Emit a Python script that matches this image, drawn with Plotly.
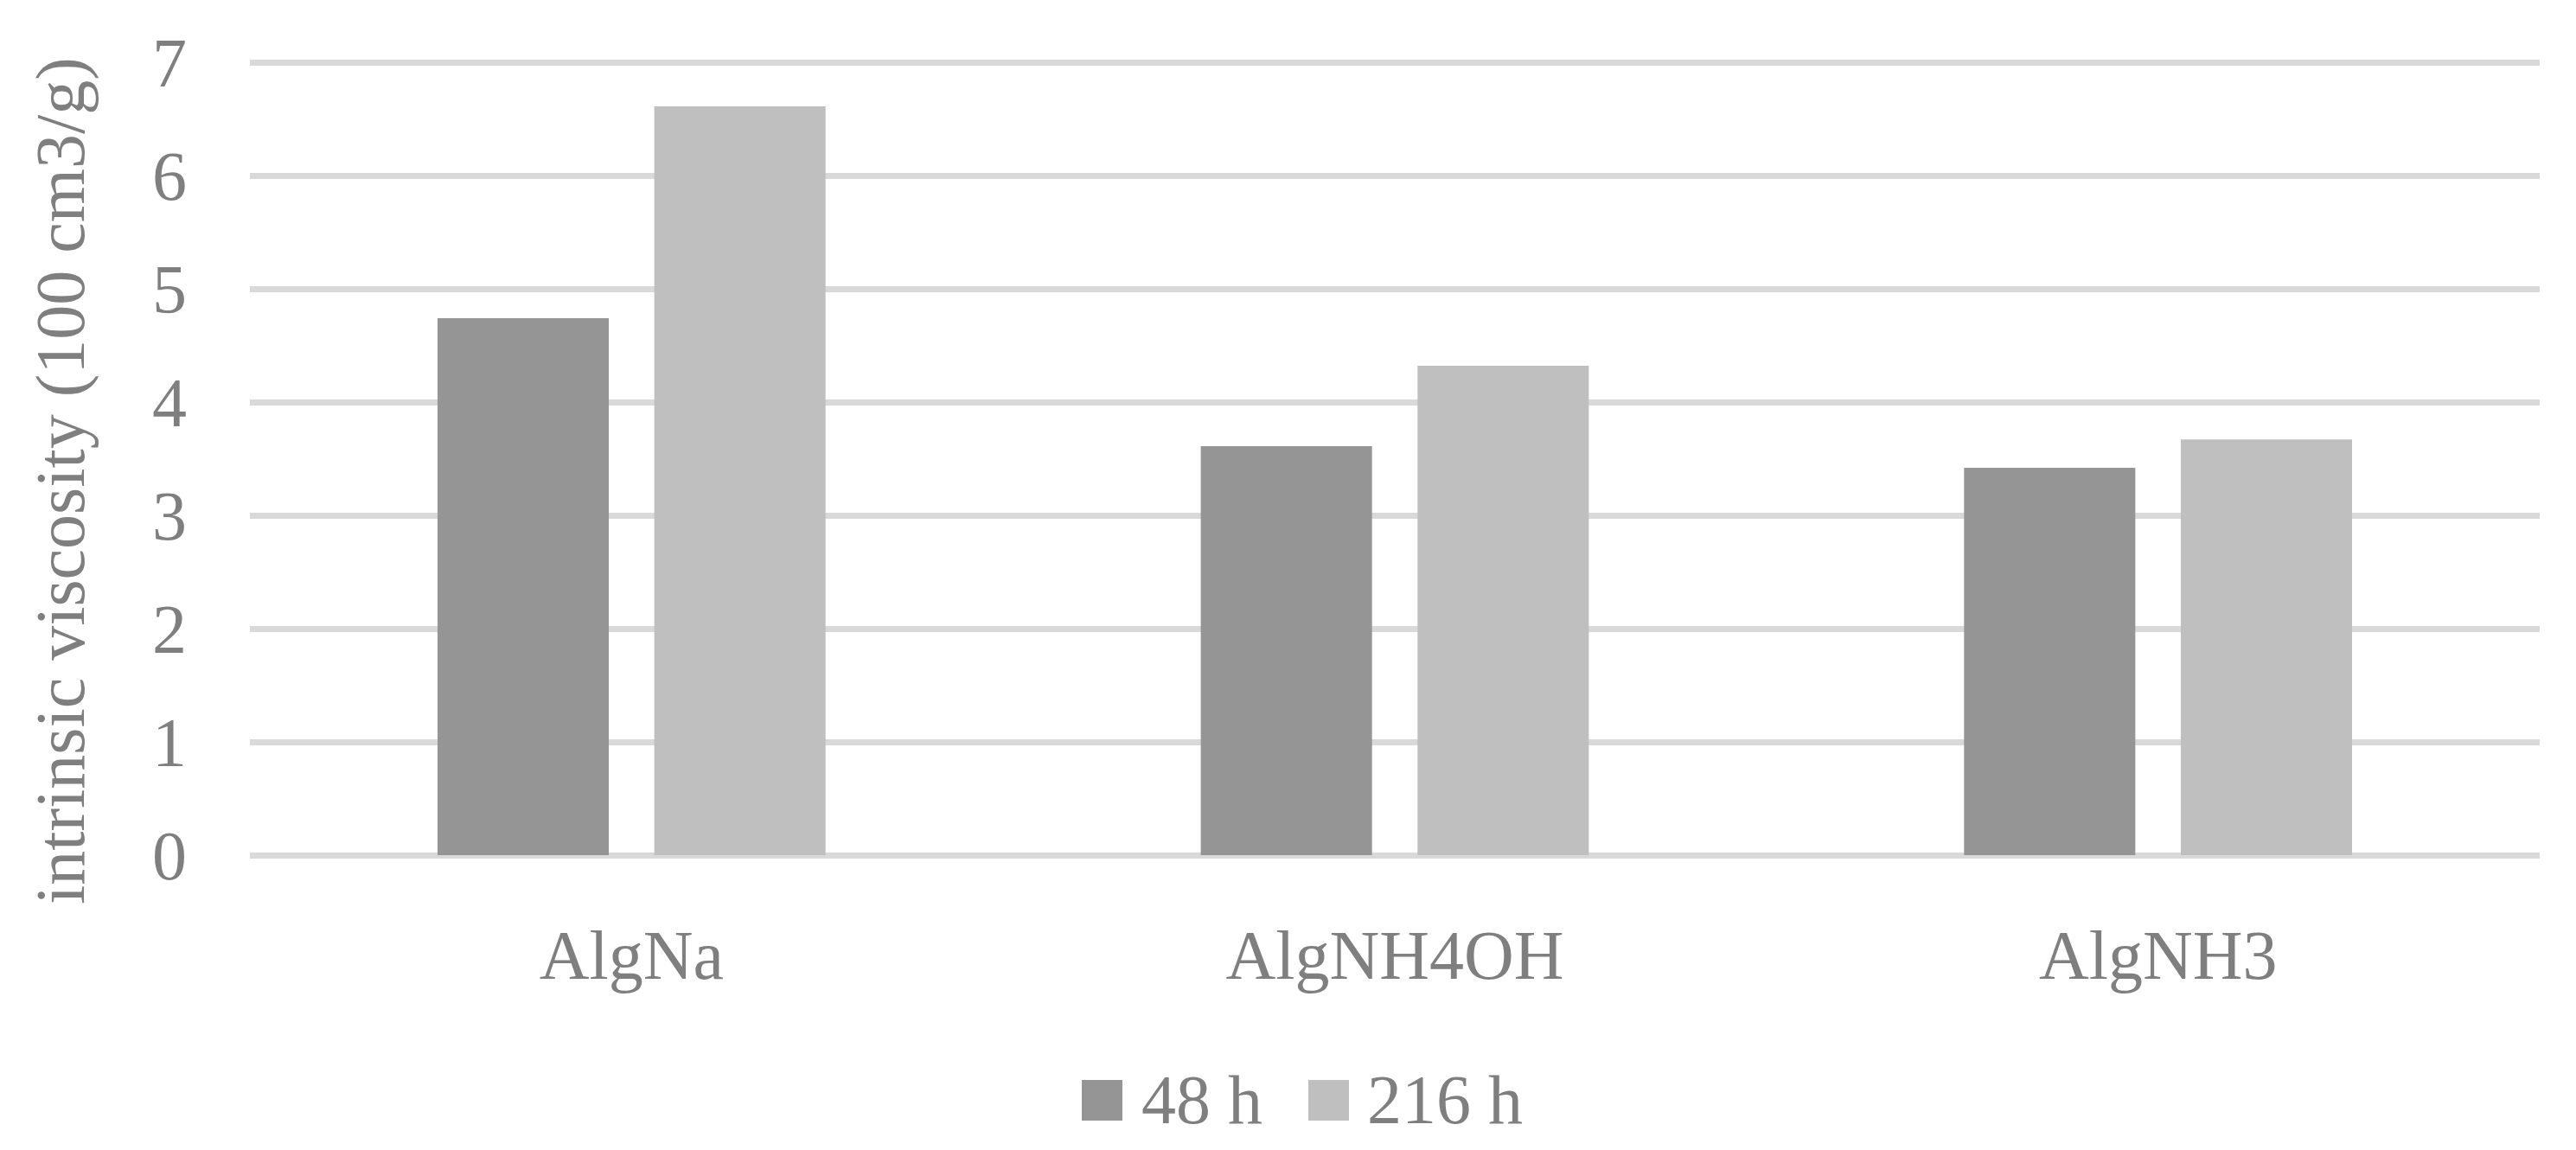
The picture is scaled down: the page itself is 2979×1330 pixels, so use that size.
import plotly.graph_objects as go

categories = ["AlgNa", "AlgNH4OH", "AlgNH3"]
series_names = ["48 h", "216 h"]
values_48h = [4.74, 3.61, 3.42]
values_216h = [6.61, 4.32, 3.67]
y_ticks = [0, 1, 2, 3, 4, 5, 6, 7]
y_title = "intrinsic viscosity (100 cm3/g)"

COLORS = ["#959595", "#BFBFBF"]
TEXT = "#7F7F7F"
FONT = "Liberation Serif, Times New Roman, serif"
FS = 80

# page is 2979x1330, body has an 8px margin
W, H, OFF = 2979, 1330, 8
PLOT_L, PLOT_R, PLOT_T, PLOT_B = 289, 2937, 68, 993  # page px, incl. half gridline


def px_x(px):
    return (px - PLOT_L) / (PLOT_R - PLOT_L)


def px_y(py):
    return (PLOT_B - py) / (PLOT_B - PLOT_T)


fig = go.Figure()
for name, vals, color in zip(series_names, [values_48h, values_216h], COLORS):
    fig.add_trace(go.Bar(
        x=categories, y=vals, name=name,
        marker=dict(color=color, line=dict(width=0)),
        showlegend=False,
    ))

# hand-drawn legend, plotly's legend icons don't scale up
legend_items = [(1251, 1318), (1513, 1579)]
shapes, annotations = [], []
for (sq_x, tx_x), name, color in zip(legend_items, series_names, COLORS):
    shapes.append(dict(
        type="rect", xref="paper", yref="paper",
        x0=px_x(sq_x), x1=px_x(sq_x + 47), y0=px_y(1296), y1=px_y(1249),
        fillcolor=color, line=dict(width=0),
    ))
    annotations.append(dict(
        x=px_x(tx_x), y=px_y(1272), xref="paper", yref="paper",
        text=name, showarrow=False, xanchor="left", yanchor="middle",
        font=dict(family=FONT, size=FS, color=TEXT),
    ))

annotations.append(dict(
    x=px_x(70), y=px_y(556), xref="paper", yref="paper",
    text=y_title, showarrow=False, textangle=-90,
    xanchor="center", yanchor="middle",
    font=dict(family=FONT, size=FS, color=TEXT),
))

fig.update_layout(
    width=W - 2 * OFF, height=H - 2 * OFF,
    margin=dict(l=PLOT_L - OFF, r=W - OFF - PLOT_R, t=PLOT_T - OFF, b=H - OFF - PLOT_B, pad=0),
    barmode="group", bargap=0.432, bargroupgap=0.21,
    plot_bgcolor="white", paper_bgcolor="white",
    font=dict(family=FONT, size=FS, color=TEXT),
    shapes=shapes, annotations=annotations,
    showlegend=False,
)
fig.update_yaxes(
    range=[-0.0305, 7.0305], tickvals=y_ticks, ticktext=[str(v) for v in y_ticks],
    showgrid=True, gridcolor="#D9D9D9", gridwidth=7,
    zeroline=False, showline=False, ticks="",
    ticklabelstandoff=72,
    tickfont=dict(family=FONT, size=FS, color=TEXT),
)
fig.update_xaxes(
    showgrid=False, showline=False, ticks="",
    ticklabelstandoff=58,
    tickfont=dict(family=FONT, size=FS, color=TEXT),
)

fig.write_html("out.html")
